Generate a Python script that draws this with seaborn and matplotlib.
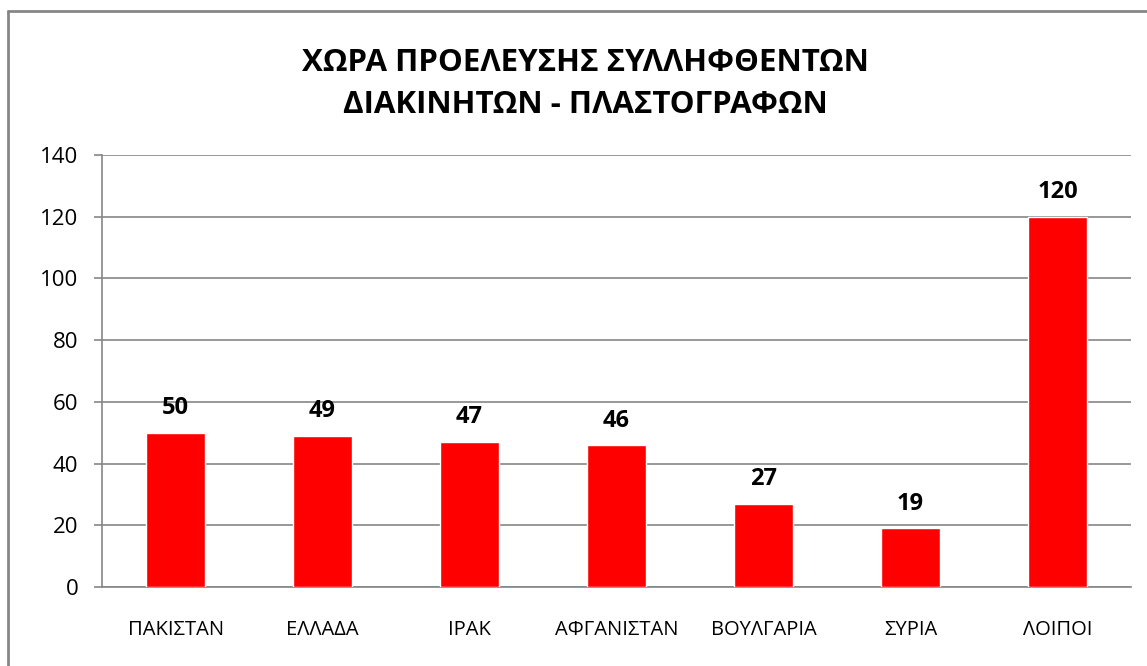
import matplotlib
matplotlib.use("Agg")
import matplotlib.pyplot as plt
from matplotlib.lines import Line2D
import seaborn as sns
import pandas as pd

# chart data
countries = ['ΠΑΚΙΣΤΑΝ', 'ΕΛΛΑΔΑ', 'ΙΡΑΚ', 'ΑΦΓΑΝΙΣΤΑΝ', 'ΒΟΥΛΓΑΡΙΑ', 'ΣΥΡΙΑ', 'ΛΟΙΠΟΙ']
counts = [50, 49, 47, 46, 27, 19, 120]
yticks = [0, 20, 40, 60, 80, 100, 120, 140]
title = 'ΧΩΡΑ ΠΡΟΕΛΕΥΣΗΣ ΣΥΛΛΗΦΘΕΝΤΩΝ\nΔΙΑΚΙΝΗΤΩΝ - ΠΛΑΣΤΟΓΡΑΦΩΝ'

df = pd.DataFrame({'country': countries, 'count': counts})

sns.set_style('white')
plt.rcParams['font.family'] = ['Open Sans', 'DejaVu Sans']
plt.rcParams['text.color'] = 'black'
plt.rcParams['xtick.labelcolor'] = 'black'
plt.rcParams['ytick.labelcolor'] = 'black'

grey = '#868686'
fig = plt.figure(figsize=(11.47, 6.66), dpi=100)
ax = fig.add_axes([0.089, 0.1186, 0.897, 0.6487])

sns.barplot(data=df, x='country', y='count', color='#ff0000', width=0.4,
            saturation=1, ax=ax, zorder=3)

ax.set_ylim(0, 140)
ax.set_xlim(-0.5, len(countries) - 0.5)
ax.set_yticks(yticks)
ax.set_yticklabels([str(t) for t in yticks], fontsize=16)
ax.yaxis.grid(True, color=grey, linewidth=1.2, zorder=0)
ax.set_axisbelow(True)
ax.set_xlabel('')
ax.set_ylabel('')

ax.set_xticks(range(len(countries)))
ax.set_xticklabels(countries, fontsize=14.5)
ax.tick_params(axis='x', length=0, pad=24)
ax.set_xticks([i - 0.5 for i in range(len(countries) + 1)], minor=True)
ax.tick_params(axis='x', which='minor', length=6, color=grey, width=1.2, direction='out')
ax.tick_params(axis='y', length=6, color=grey, width=1.2, direction='out', pad=11, left=True)

for side in ['top', 'right']:
    ax.spines[side].set_visible(False)
for side in ['left', 'bottom']:
    ax.spines[side].set_color(grey)
    ax.spines[side].set_linewidth(1.2)

for i, v in enumerate(counts):
    ax.annotate(str(v), (i, v), xytext=(0, 9), textcoords='offset points',
                ha='center', va='bottom', fontsize=17, fontweight='bold')

fig.text(0.51, 0.874, title, ha='center', va='center', fontsize=22.5,
         fontweight='bold', linespacing=1.55)

# outer chart border (cut off at right and bottom)
fig.add_artist(Line2D([8 / 1147, 1.0], [1 - 11 / 666, 1 - 11 / 666],
                      color=grey, linewidth=2, transform=fig.transFigure))
fig.add_artist(Line2D([8 / 1147, 8 / 1147], [0, 1 - 11 / 666],
                      color=grey, linewidth=2, transform=fig.transFigure))

fig.savefig('out.png', dpi=100, facecolor='white')
